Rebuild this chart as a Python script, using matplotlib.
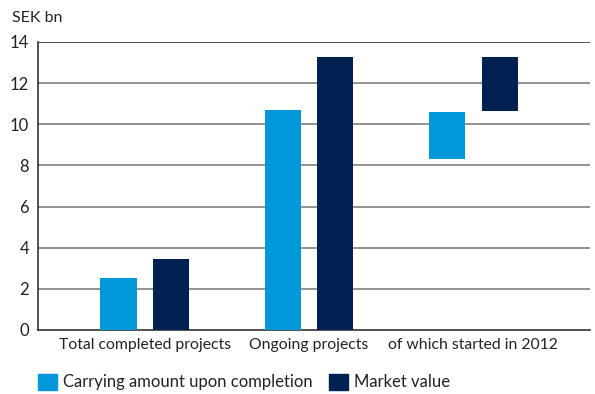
import matplotlib
matplotlib.use("Agg")
import numpy as np
import matplotlib.pyplot as plt
from matplotlib.patches import Patch

plt.rcParams['font.family'] = ['Lato', 'DejaVu Sans']

categories = ['Total completed projects', 'Ongoing projects', 'of which started in 2012']
carrying_low = [0, 0, 8.33]
carrying_high = [2.53, 10.7, 10.6]
market_low = [0, 0, 10.66]
market_high = [3.45, 13.27, 13.29]
yticks = [0, 2, 4, 6, 8, 10, 12, 14]

light = '#0098d8'
dark = '#002152'

fig = plt.figure(figsize=(5.95, 3.94), dpi=100)
ax = fig.add_axes([38/595, 64/394, 552/595, 288/394])

x = np.array([0.0, 1.0, 2.0])
w = 0.22
off = 0.16
ax.bar(x - off, np.subtract(carrying_high, carrying_low), w, bottom=carrying_low,
       color=light, zorder=3)
ax.bar(x + off, np.subtract(market_high, market_low), w, bottom=market_low,
       color=dark, zorder=3)

ax.set_ylim(0, 14)
ax.set_xlim(-0.65, 2.71)
ax.set_yticks(yticks)
ax.set_yticklabels([str(t) for t in yticks], fontsize=12, color='#222222')
ax.tick_params(axis='y', length=0, pad=6.5)
ax.tick_params(axis='x', length=0, pad=6)
ax.set_xticks(x)
ax.set_xticklabels(categories, fontsize=11.3, color='#222222')

for t in yticks[1:-1]:
    ax.axhline(t, color='#8a8a8a', lw=1.3, zorder=1)
ax.axhline(14, color='#444444', lw=1.3, zorder=1)

for s in ['top', 'right']:
    ax.spines[s].set_visible(False)
ax.spines['left'].set_color('#333333')
ax.spines['bottom'].set_color('#333333')
ax.spines['left'].set_linewidth(1.2)
ax.spines['bottom'].set_linewidth(1.2)

fig.text(12/595, 1 - 18/394, 'SEK bn', fontsize=11.5, color='#222222', va='center')

handles = [Patch(color=light, label='Carrying amount upon completion'),
           Patch(color=dark, label='Market value')]
fig.legend(handles=handles, loc='center left', bbox_to_anchor=(23/595, 1 - 382/394),
           ncol=2, frameon=False, fontsize=12, handlelength=1.14, handleheight=1.14,
           handletextpad=0.35, columnspacing=1.0, labelcolor='#222222')

fig.savefig('out.png', dpi=100)
